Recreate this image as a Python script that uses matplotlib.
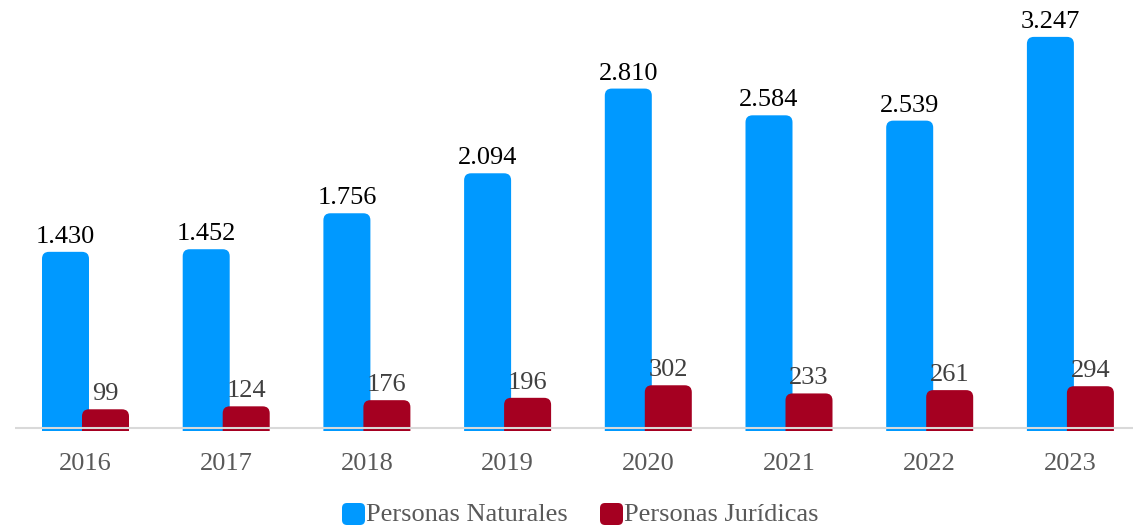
import matplotlib.pyplot as plt
from matplotlib.patches import FancyBboxPatch

years = ["2016", "2017", "2018", "2019", "2020", "2021", "2022", "2023"]
naturales = [1430, 1452, 1756, 2094, 2810, 2584, 2539, 3247]
juridicas = [99, 124, 176, 196, 302, 233, 261, 294]
naturales_labels = ["1.430", "1.452", "1.756", "2.094", "2.810", "2.584", "2.539", "3.247"]
juridicas_labels = [str(v) for v in juridicas]

BLUE = "#0099FF"
RED = "#A50021"

plt.rcParams['font.family'] = ['Liberation Serif', 'DejaVu Serif']

W, H = 1133, 527
fig = plt.figure(figsize=(W / 100, H / 100), dpi=100)
# axes spans the axis line width; bottom a few px under the baseline
ax = fig.add_axes([15 / W, 96 / H, (1133 - 15) / W, (H - 96) / H])
px_x = 140.7          # px per category
px_y = 0.1183         # px per unit
ax.set_xlim(-(85.5 - 15) / px_x, (1133 - 85.5) / px_x)
bottom = -10 / px_y
ax.set_ylim(bottom, 421 / px_y)
ax.axis('off')

width = 47 / px_x
off = 20 / px_x
rad = 7 / px_x
aspect = (1 / px_y) / (1 / px_x)


def rounded_bar(xc, val, color, z):
    b = FancyBboxPatch((xc - width / 2, bottom - 400), width, val - bottom + 400,
                       boxstyle=f"round,pad=0,rounding_size={rad}",
                       mutation_aspect=aspect, fc=color, ec='none', zorder=z)
    ax.add_patch(b)


for i in range(len(years)):
    rounded_bar(i - off, naturales[i], BLUE, 2)
    rounded_bar(i + off, juridicas[i], RED, 3)
    ax.text(i - off, naturales[i] + 9 / px_y, naturales_labels[i], ha='center', va='baseline',
            fontsize=19, color='black')
    ax.text(i + off, juridicas[i] + 9 / px_y, juridicas_labels[i], ha='center', va='baseline',
            fontsize=19, color='#404040')
    ax.text(i, bottom - 39 / px_y, years[i], ha='center', va='baseline',
            fontsize=19, color='#595959')

# axis line
ax.axhline(-7 / px_y, color='#D9D9D9', lw=1.5, zorder=4)

# legend
for x0, color, label in [(342, BLUE, "Personas Naturales"), (600, RED, "Personas Jurídicas")]:
    fig.patches.append(FancyBboxPatch((x0 / W, (H - 525) / H), 23 / W, 22 / H,
                                      boxstyle=f"round,pad=0,rounding_size={5 / W}",
                                      mutation_aspect=W / H,
                                      transform=fig.transFigure, fc=color, ec='none'))
    fig.text((x0 + 24) / W, (H - 521) / H, label, ha='left', va='baseline',
             fontsize=19, color='#595959')

fig.savefig("out.png", dpi=100)
